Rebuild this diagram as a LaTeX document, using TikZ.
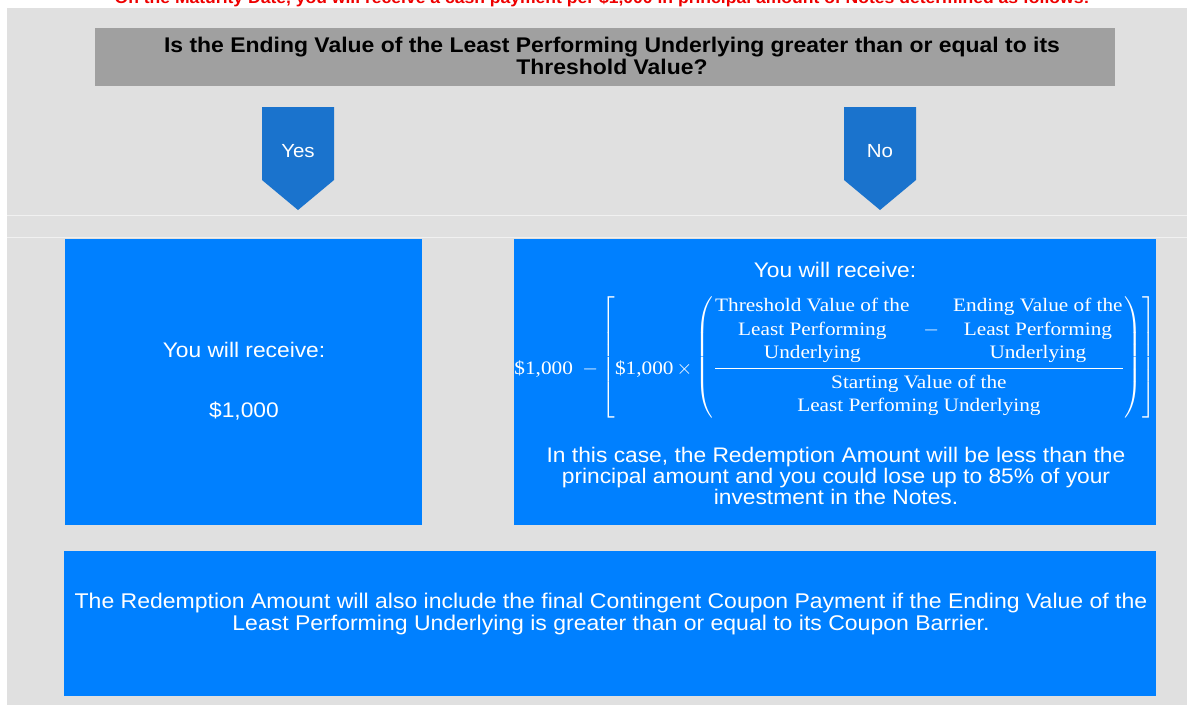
\documentclass[tikz,border=0pt]{standalone}
\usepackage{amsmath}
\usepackage{fontspec}
\setmainfont[FakeStretch=1.08]{Liberation Sans}
\newfontfamily\fmlfont[FakeStretch=1.12]{Liberation Serif}
\usetikzlibrary{positioning}
\definecolor{panelgray}{RGB}{224,224,224}
\definecolor{bandgray}{RGB}{160,160,160}
\definecolor{boxblue}{RGB}{0,128,255}
\definecolor{arrowblue}{RGB}{26,115,205}
\definecolor{notered}{RGB}{238,0,0}

\begin{document}
\begin{tikzpicture}[x=0.025cm,y=-0.025cm,
	txt/.style={text=white,font=\fontsize{15}{13.5}\selectfont,align=center,inner sep=0pt},
	bluebox/.style={fill=boxblue,inner sep=0pt,outer sep=0pt}]
	\useasboundingbox (0,0) rectangle (1187,705);
	\fill[panelgray] (7,8) rectangle (1187,705);
	\draw[white!55!panelgray,line width=0.6pt] (7,215) -- (1187,215) (7,237) -- (1187,237);
	\node[text=notered,font=\bfseries\fontsize{11.55}{11}\selectfont,anchor=base,inner sep=0pt] (mat) at (602,3)
	{On the Maturity Date, you will receive a cash payment per \$1,000 in principal amount of Notes determined as follows:};
	% question band
	\fill[bandgray] (95,28) rectangle (1115,86);
	\node[font=\bfseries\fontsize{15.1}{13.8}\selectfont,align=center,inner sep=0pt] (q) at (612,56)
	{Is the Ending Value of the Least Performing Underlying greater than or equal to its\\Threshold Value?};
	% yes / no pointers
	\foreach \X/\L [count=\Y] in {298/Yes,880/No}
	{\fill[arrowblue] (\X-36,107) -- (\X+36,107) -- (\X+36,180) -- (\X,210) -- (\X-36,180) -- cycle;
		\node[text=white,font=\fontsize{13.5}{13.5}\selectfont,inner sep=0pt] (A-\Y) at (\X,151) {\L};}
	% outcome boxes
	\node[bluebox,minimum width={357*0.025cm},minimum height={286*0.025cm}] (yesbox) at (243.5,382) {};
	\node[bluebox,minimum width={642*0.025cm},minimum height={286*0.025cm}] (nobox) at (835,382) {};
	\node[bluebox,minimum width={1092*0.025cm},minimum height={145*0.025cm}] (notebox) at (610,623.5) {};
	\node[txt] (yesrec) at (244,350) {You will receive:};
	\node[txt] (yesamt) at (244,411) {\$1,000};
	\node[txt] (norec) at (835,270) {You will receive:};
	\node[text=white,inner sep=0pt] (fml) at (835,357) {\fmlfont\fontsize{13.5}{16.8}\selectfont
		$\raisebox{-8.5pt}{\$1,000\enspace$-$}\left[\raisebox{-8.5pt}{\$1,000\,$\times$}\left(\vcenter{\hbox{$\dfrac{\begin{tabular}{@{}c@{}}Threshold Value of the\\Least Performing\\Underlying\end{tabular}\enspace-\enspace\begin{tabular}{@{}c@{}}Ending Value of the\\Least Performing\\Underlying\end{tabular}}{\begin{tabular}{@{}c@{}}Starting Value of the\\Least Perfoming Underlying\end{tabular}}$}}\right)\right]$};
	\node[txt] (nocase) at (836,476) {In this case, the Redemption Amount will be less than the\\principal amount and you could lose up to 85\% of your\\investment in the Notes.};
	\node[txt,font=\fontsize{15.15}{13.8}\selectfont] (note) at (611,614) {The Redemption Amount will also include the final Contingent Coupon Payment if the Ending Value of the\\Least Performing Underlying is greater than or equal to its Coupon Barrier.};
\end{tikzpicture}
\end{document}
